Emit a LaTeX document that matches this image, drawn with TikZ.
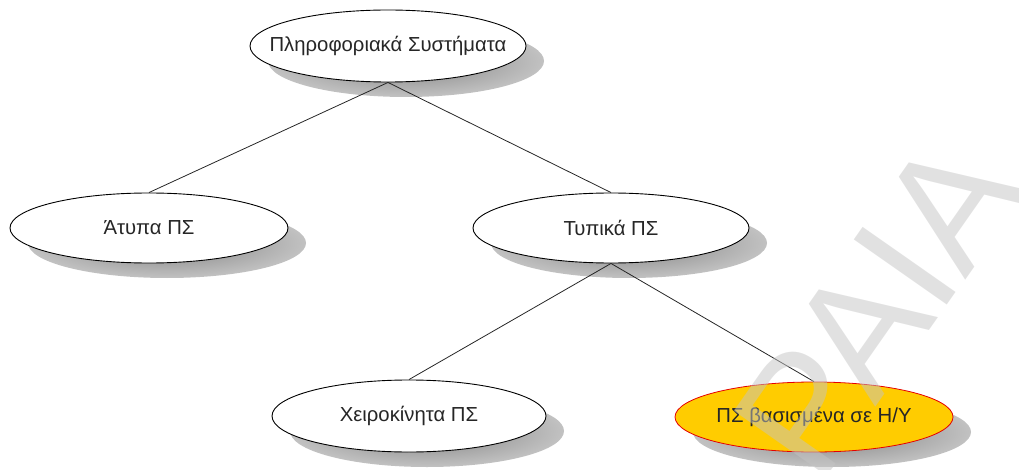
\documentclass[tikz,border=0pt]{standalone}
\usepackage{fontspec}
\setmainfont{Liberation Sans}
\usetikzlibrary{shapes.geometric}
\definecolor{txt}{HTML}{262626}
\definecolor{gold}{HTML}{FFCC00}
\definecolor{wm}{HTML}{C4C4C4}
\newcommand{\ztext}[1]{\makebox[0pt][c]{#1}}
\tikzset{
  oval/.style={ellipse, draw=black, line width=0.9pt, fill=white, inner sep=0pt,
    minimum width=276pt, minimum height=71pt, text=txt, font=\fontsize{20.3}{22}\selectfont},
  hot/.style={oval, draw=red!90!black, line width=0.8pt, fill=gold},
  shade/.style={shading=radial, inner color=black!50, outer color=black!24},
  link/.style={draw=black!85, line width=0.8pt}
}
\begin{document}
\begin{tikzpicture}[x=1pt,y=-1pt]
\useasboundingbox (0,0) rectangle (1019,470);
% shadows
\shade[shade] (406,61) ellipse (138 and 36);
\shade[shade] (167,243) ellipse (139 and 35);
\shade[shade] (629,243) ellipse (138 and 35);
\shade[shade] (427,431) ellipse (137 and 36);
\shade[shade] (832,432) ellipse (139 and 35);
% nodes
\node[oval, minimum height=72pt] (is) at (388,46) {\ztext{Πληροφοριακά Συστήματα}};
\node[oval, minimum width=278pt, minimum height=70pt] (atypa) at (149,228) {\ztext{Άτυπα ΠΣ}};
\node[oval, minimum height=70pt] (typika) at (611,228) {\ztext{Τυπικά ΠΣ}};
\node[oval, minimum width=274pt, minimum height=72pt] (xeiro) at (409,416) {\ztext{Χειροκίνητα ΠΣ}};
\node[hot, minimum width=278pt, minimum height=70pt] (hy) at (814,417) {\ztext{ΠΣ βασισμένα σε Η/Υ}};
% connectors
\draw[link] (is.south) -- (atypa.north);
\draw[link] (is.south) -- (typika.north);
\draw[link] (typika.south) -- (xeiro.north);
\draw[link] (typika.south) -- (hy.north);
% watermark
\node[anchor=base, rotate=55, text=wm, opacity=0.5, inner sep=0pt,
  font=\fontsize{165}{165}\selectfont] (wmark) at (924,339) {PAIA};
\end{tikzpicture}
\end{document}
